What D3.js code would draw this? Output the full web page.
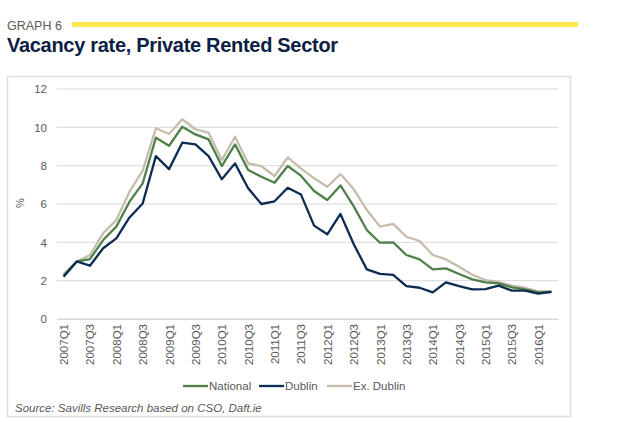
<!DOCTYPE html>
<html>
<head>
<meta charset="utf-8">
<script src="https://cdn.jsdelivr.net/npm/d3@7"></script>
<style>
  body { margin: 0; background: #fff; }
  svg { display: block; font-family: "Liberation Sans", Arial, sans-serif; }
</style>
</head>
<body>
<div id="chart"></div>
<script>
// Quarters 2007Q1 .. 2016Q2
const quarters = [
  "2007Q1","2007Q2","2007Q3","2007Q4","2008Q1","2008Q2","2008Q3","2008Q4",
  "2009Q1","2009Q2","2009Q3","2009Q4","2010Q1","2010Q2","2010Q3","2010Q4",
  "2011Q1","2011Q2","2011Q3","2011Q4","2012Q1","2012Q2","2012Q3","2012Q4",
  "2013Q1","2013Q2","2013Q3","2013Q4","2014Q1","2014Q2","2014Q3","2014Q4",
  "2015Q1","2015Q2","2015Q3","2015Q4","2016Q1","2016Q2"
];
const national = [
  2.25, 3.0, 3.13, 4.12, 4.82, 6.12, 7.08, 9.46,
  9.04, 10.03, 9.63, 9.37, 7.98, 9.11, 7.77, 7.42,
  7.11, 7.98, 7.48, 6.68, 6.21, 6.97, 5.89, 4.64,
  3.98, 4.0, 3.34, 3.11, 2.59, 2.64, 2.35, 2.07,
  1.91, 1.86, 1.65, 1.55, 1.39, 1.42
];
const dublin = [
  2.2, 3.0, 2.78, 3.69, 4.21, 5.3, 6.03, 8.5,
  7.82, 9.2, 9.11, 8.5, 7.29, 8.12, 6.82, 6.0,
  6.14, 6.85, 6.5, 4.87, 4.42, 5.48, 3.91, 2.59,
  2.35, 2.3, 1.72, 1.63, 1.39, 1.91, 1.72, 1.55,
  1.56, 1.74, 1.48, 1.48, 1.32, 1.42
];
const exDublin = [
  2.35, 3.0, 3.34, 4.48, 5.16, 6.64, 7.74, 9.95,
  9.65, 10.42, 9.9, 9.72, 8.29, 9.51, 8.12, 7.98,
  7.46, 8.43, 7.86, 7.34, 6.9, 7.56, 6.78, 5.69,
  4.82, 4.96, 4.29, 4.07, 3.34, 3.11, 2.73, 2.31,
  2.03, 1.93, 1.74, 1.63, 1.44, 1.45
];
const yTicks = [0, 2, 4, 6, 8, 10, 12];
const xTickLabels = quarters.filter((q, i) => i % 2 === 0);

const series = [
  { label: "National", values: national, color: "#4f8049" },
  { label: "Dublin", values: dublin, color: "#0c2c52" },
  { label: "Ex. Dublin", values: exDublin, color: "#c6bcab" }
];
// draw order: Ex. Dublin at back, Dublin on top
const drawOrder = [2, 0, 1];

const W = 617, H = 422;
const svg = d3.select("#chart").append("svg")
  .attr("width", W)
  .attr("height", H);

// header
svg.append("text")
  .attr("x", 7).attr("y", 30)
  .attr("font-size", 12.5)
  .attr("fill", "#5a5a5a")
  .text("GRAPH 6");
svg.append("rect")
  .attr("x", 72).attr("y", 22)
  .attr("width", 506).attr("height", 5)
  .attr("fill", "#ffe94f");
svg.append("text")
  .attr("x", 7).attr("y", 52)
  .attr("font-size", 20)
  .attr("font-weight", "bold")
  .attr("letter-spacing", -0.3)
  .attr("fill", "#0d1e44")
  .text("Vacancy rate, Private Rented Sector");

// chart frame
svg.append("rect")
  .attr("x", 7.5).attr("y", 76.5)
  .attr("width", 563).attr("height", 340)
  .attr("fill", "none")
  .attr("stroke", "#dedede")
  .attr("stroke-width", 1.5);

// scales
const x = d3.scalePoint()
  .domain(quarters)
  .range([57, 558])
  .padding(0.5);
const y = d3.scaleLinear()
  .domain([0, 12])
  .range([319, 89]);

// gridlines
svg.append("g")
  .selectAll("line")
  .data(yTicks)
  .join("line")
  .attr("x1", 57).attr("x2", 558)
  .attr("y1", d => y(d)).attr("y2", d => y(d))
  .attr("stroke", "#d9d9d9")
  .attr("stroke-width", 1);

// y axis
svg.append("g")
  .attr("transform", "translate(57,0)")
  .call(d3.axisLeft(y).tickValues(yTicks).tickSize(0).tickPadding(10))
  .call(g => g.select(".domain").remove())
  .call(g => g.selectAll("text")
    .attr("font-size", 11.5)
    .attr("font-family", "Liberation Sans, Arial, sans-serif")
    .attr("fill", "#595959"));

svg.append("text")
  .attr("transform", "translate(24,203) rotate(-90)")
  .attr("text-anchor", "middle")
  .attr("font-size", 11)
  .attr("fill", "#595959")
  .text("%");

// x axis
svg.append("g")
  .attr("transform", `translate(0,${y(0)})`)
  .call(d3.axisBottom(x).tickValues(xTickLabels).tickSize(0))
  .call(g => g.select(".domain").attr("stroke", "#d9d9d9"))
  .call(g => g.selectAll("text")
    .attr("font-size", 11.5)
    .attr("font-family", "Liberation Sans, Arial, sans-serif")
    .attr("fill", "#595959")
    .attr("text-anchor", "end")
    .attr("transform", "rotate(-90)")
    .attr("x", -5)
    .attr("y", 0)
    .attr("dy", "0.35em"));

// lines
const line = d3.line()
  .x((d, i) => x(quarters[i]))
  .y(d => y(d));

drawOrder.forEach(k => {
  const s = series[k];
  svg.append("path")
    .datum(s.values)
    .attr("fill", "none")
    .attr("stroke", s.color)
    .attr("stroke-width", 2.3)
    .attr("stroke-linejoin", "round")
    .attr("d", line);
});

// legend
const legendX = [183, 259, 327];
const legend = svg.append("g").attr("transform", "translate(0,386)");
series.forEach((s, i) => {
  legend.append("line")
    .attr("x1", legendX[i]).attr("x2", legendX[i] + 25)
    .attr("y1", 0).attr("y2", 0)
    .attr("stroke", s.color)
    .attr("stroke-width", 2.3);
  legend.append("text")
    .attr("x", legendX[i] + 26)
    .attr("y", 4)
    .attr("font-size", 11.5)
    .attr("fill", "#595959")
    .text(s.label);
});

// source
svg.append("text")
  .attr("x", 15).attr("y", 412)
  .attr("font-size", 11.5)
  .attr("font-style", "italic")
  .attr("fill", "#595959")
  .text("Source: Savills Research based on CSO, Daft.ie");
</script>
</body>
</html>
